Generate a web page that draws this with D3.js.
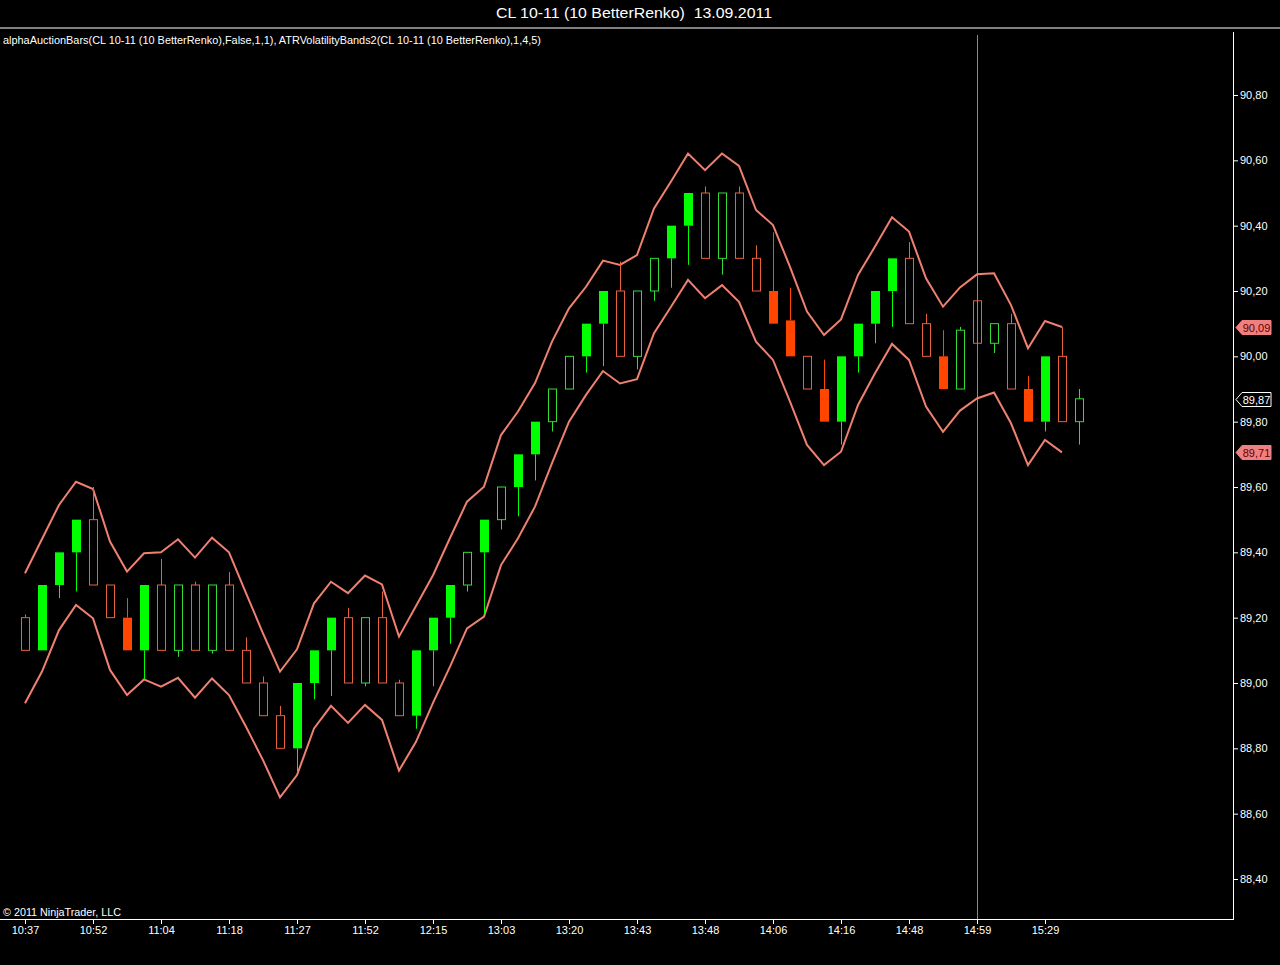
<!DOCTYPE html>
<html><head><meta charset="utf-8">
<script src="https://cdn.jsdelivr.net/npm/d3@7"></script>
<style>html,body{margin:0;padding:0;background:#000;overflow:hidden}</style>
</head><body>
<svg id="c" width="1280" height="965"></svg>
<script>
const titleText = "CL 10-11 (10 BetterRenko)  13.09.2011";
const indicatorText = "alphaAuctionBars(CL 10-11 (10 BetterRenko),False,1,1), ATRVolatilityBands2(CL 10-11 (10 BetterRenko),1,4,5)";
const copyrightText = "© 2011 NinjaTrader, LLC";

const opens  = [89.20,89.10,89.30,89.40,89.50,89.30,89.20,89.10,89.30,89.10,89.30,89.10,89.30,89.10,89.00,88.90,88.80,89.00,89.10,89.20,89.00,89.20,89.00,88.90,89.10,89.20,89.30,89.40,89.50,89.60,89.70,89.80,89.90,90.00,90.10,90.20,90.00,90.20,90.30,90.40,90.50,90.30,90.50,90.30,90.20,90.11,90.00,89.90,89.80,90.00,90.10,90.20,90.30,90.10,90.00,89.90,90.17,90.04,90.10,89.90,89.80,90.00,89.80];
const closes = [89.10,89.30,89.40,89.50,89.30,89.20,89.10,89.30,89.10,89.30,89.10,89.30,89.10,89.00,88.90,88.80,89.00,89.10,89.20,89.00,89.20,89.00,88.90,89.10,89.20,89.30,89.40,89.50,89.60,89.70,89.80,89.90,90.00,90.10,90.20,90.00,90.20,90.30,90.40,90.50,90.30,90.50,90.30,90.20,90.10,90.00,89.90,89.80,90.00,90.10,90.20,90.30,90.10,90.00,89.90,90.08,90.04,90.10,89.90,89.80,90.00,89.80,89.87];
const highs  = [89.21,89.30,89.40,89.50,89.60,89.30,89.26,89.30,89.38,89.30,89.31,89.30,89.34,89.14,89.02,88.93,89.00,89.10,89.20,89.23,89.20,89.28,89.01,89.10,89.20,89.30,89.40,89.50,89.60,89.70,89.80,89.90,90.00,90.10,90.20,90.29,90.20,90.30,90.40,90.50,90.52,90.50,90.52,90.34,90.38,90.21,90.00,89.99,90.00,90.10,90.20,90.30,90.35,90.13,90.08,90.09,90.17,90.10,90.13,89.94,90.00,90.09,89.90];
const lows   = [89.10,89.10,89.26,89.28,89.30,89.20,89.10,89.01,89.10,89.08,89.10,89.09,89.10,89.00,88.90,88.80,88.73,88.95,88.96,89.00,88.99,89.00,88.90,88.86,88.99,89.12,89.28,89.21,89.47,89.51,89.62,89.77,89.90,89.95,89.97,90.00,89.96,90.17,90.21,90.28,90.30,90.25,90.30,90.20,90.10,90.00,89.90,89.80,89.73,89.95,90.04,90.09,90.10,90.00,89.90,89.90,89.97,90.01,89.90,89.80,89.77,89.80,89.73];
// 1 = solid body, 0 = hollow body
const filled = [0,1,1,1,0,0,1,1,0,0,0,0,0,0,0,0,1,1,1,0,0,0,0,1,1,1,0,1,0,1,1,0,0,1,1,0,0,0,1,1,0,0,0,0,1,1,0,1,1,1,1,1,0,0,1,0,0,0,0,1,1,0,0];
const upperBand = [89.336,89.441,89.545,89.616,89.594,89.433,89.341,89.397,89.400,89.440,89.384,89.445,89.400,89.275,89.152,89.035,89.103,89.244,89.310,89.275,89.329,89.302,89.142,89.236,89.330,89.444,89.555,89.601,89.759,89.831,89.918,90.045,90.147,90.213,90.293,90.280,90.310,90.453,90.535,90.621,90.570,90.621,90.583,90.448,90.402,90.274,90.137,90.065,90.113,90.249,90.336,90.426,90.382,90.239,90.152,90.211,90.251,90.254,90.157,90.025,90.108,90.090];
const lowerBand = [88.938,89.035,89.162,89.239,89.198,89.040,88.963,89.011,88.989,89.016,88.955,89.014,88.963,88.866,88.764,88.650,88.718,88.861,88.930,88.878,88.933,88.887,88.732,88.820,88.939,89.050,89.167,89.203,89.361,89.443,89.540,89.673,89.800,89.882,89.955,89.917,89.930,90.071,90.152,90.234,90.178,90.218,90.167,90.045,89.989,89.861,89.729,89.667,89.708,89.851,89.948,90.038,89.989,89.846,89.769,89.834,89.871,89.889,89.795,89.667,89.744,89.706];
const timeTickIndex = [0,4,8,12,16,20,24,28,32,36,40,44,48,52,56,60];
const timeTickLabels = ["10:37","10:52","11:04","11:18","11:27","11:52","12:15","13:03","13:20","13:43","13:48","14:06","14:16","14:48","14:59","15:29"];
const priceTicks = [88.40,88.60,88.80,89.00,89.20,89.40,89.60,89.80,90.00,90.20,90.40,90.60,90.80];
const cursorIndex = 56;

const svg = d3.select("#c");
const W = 1280, H = 965;
const font = "'Liberation Sans', Arial, sans-serif";
svg.append("rect").attr("width", W).attr("height", H).attr("fill", "#000");

const x = d3.scaleLinear().domain([0, 62]).range([25, 1079]);
const y = d3.scaleLinear().domain([88.40, 90.80]).range([879, 95]);
const fmt = v => d3.format(".2f")(v).replace(".", ",");

const UP = "#00ff00", UPH = "#33dd33", DN = "#ff4500", DNH = "#e8603c", BAND = "#f08070";

// title
svg.append("text").attr("x", 634).attr("y", 18).attr("text-anchor", "middle")
  .style("white-space", "pre")
  .attr("fill", "#fff").attr("font-family", font).attr("font-size", 14)
  .attr("textLength", 276).attr("lengthAdjust", "spacingAndGlyphs").text(titleText);
// frame
svg.append("line").attr("x1", 0).attr("x2", W).attr("y1", 28).attr("y2", 28).attr("stroke", "#fff").attr("stroke-width", 1);
svg.append("line").attr("x1", 1233.5).attr("x2", 1233.5).attr("y1", 32).attr("y2", 919.5).attr("stroke", "#fff").attr("stroke-width", 1);
svg.append("line").attr("x1", 0).attr("x2", 1234).attr("y1", 919.5).attr("y2", 919.5).attr("stroke", "#fff").attr("stroke-width", 1);
svg.append("text").attr("x", 3).attr("y", 44).attr("fill", "#fff").attr("font-family", font).attr("font-size", 11)
  .attr("textLength", 538).attr("lengthAdjust", "spacingAndGlyphs").text(indicatorText);
svg.append("text").attr("x", 3).attr("y", 916).attr("fill", "#fff").attr("font-family", font).attr("font-size", 11)
  .attr("textLength", 118).attr("lengthAdjust", "spacingAndGlyphs").text(copyrightText);

// cursor line
svg.append("line").attr("x1", Math.round(x(cursorIndex)) + 0.5).attr("x2", Math.round(x(cursorIndex)) + 0.5)
  .attr("y1", 35).attr("y2", 919).attr("stroke", "#8a8a8a").attr("stroke-width", 1);

// right axis
const ya = svg.append("g").attr("transform", "translate(1233,0)")
  .call(d3.axisRight(y).tickValues(priceTicks).tickFormat(fmt).tickSize(5).tickPadding(2));
ya.select(".domain").remove();
ya.selectAll("line").attr("stroke", "#fff");
ya.selectAll("text").attr("fill", "#fff").attr("font-family", font).attr("font-size", 11);

// bottom axis
const xa = svg.append("g").attr("transform", "translate(0,919)")
  .call(d3.axisBottom(x).tickValues(timeTickIndex).tickFormat((d, i) => timeTickLabels[i]).tickSize(5).tickPadding(2));
xa.select(".domain").remove();
xa.selectAll("line").attr("stroke", "#fff");
xa.selectAll("text").attr("fill", "#fff").attr("font-family", font).attr("font-size", 11);

// bands
const lineGen = d3.line().x((d, i) => x(i)).y(d => y(d));
svg.append("path").datum(upperBand).attr("d", lineGen).attr("fill", "none").attr("stroke", BAND).attr("stroke-width", 2);
svg.append("path").datum(lowerBand).attr("d", lineGen).attr("fill", "none").attr("stroke", BAND).attr("stroke-width", 2);

// candles
const bars = opens.map((o, i) => ({i, o, c: closes[i], h: highs[i], l: lows[i], f: filled[i]}));
const g = svg.append("g");
const bw = 8;
bars.forEach(b => {
  const up = b.c >= b.o;
  const col = up ? (b.f ? UP : UPH) : (b.f ? DN : DNH);
  const cx = Math.round(x(b.i)) + 0.5;
  const top = y(Math.max(b.o, b.c)), bot = y(Math.min(b.o, b.c));
  g.append("line").attr("x1", cx).attr("x2", cx).attr("y1", y(b.h)).attr("y2", top).attr("stroke", col).attr("stroke-width", 1);
  g.append("line").attr("x1", cx).attr("x2", cx).attr("y1", bot).attr("y2", y(b.l)).attr("stroke", col).attr("stroke-width", 1);
  if (b.f) {
    g.append("rect").attr("x", cx - bw / 2 - 0.5).attr("y", top).attr("width", bw + 1).attr("height", Math.max(1, bot - top)).attr("fill", col);
  } else {
    g.append("rect").attr("x", cx - bw / 2).attr("y", top).attr("width", bw).attr("height", Math.max(1, bot - top))
      .attr("fill", "none").attr("stroke", col).attr("stroke-width", 1);
  }
});

// value markers on right axis
const markers = [
  {v: upperBand[upperBand.length - 1], fill: "#f08080", stroke: "#f08080", txt: "#600000"},
  {v: closes[closes.length - 1], fill: "#000", stroke: "#fff", txt: "#fff"},
  {v: lowerBand[lowerBand.length - 1], fill: "#f08080", stroke: "#f08080", txt: "#600000"}
];
markers.forEach(m => {
  const yy = Math.round(y(m.v)) + 0.5;
  const x0 = 1236, x1 = 1242, x2 = 1271, hh = 7;
  svg.append("path").attr("d", `M${x0},${yy} L${x1},${yy - hh} L${x2},${yy - hh} L${x2},${yy + hh} L${x1},${yy + hh} Z`)
    .attr("fill", m.fill).attr("stroke", m.stroke).attr("stroke-width", 1);
  svg.append("text").attr("x", 1256.5).attr("y", yy + 4).attr("text-anchor", "middle").attr("fill", m.txt)
    .attr("font-family", font).attr("font-size", 11).text(fmt(m.v));
});
</script>
</body></html>
